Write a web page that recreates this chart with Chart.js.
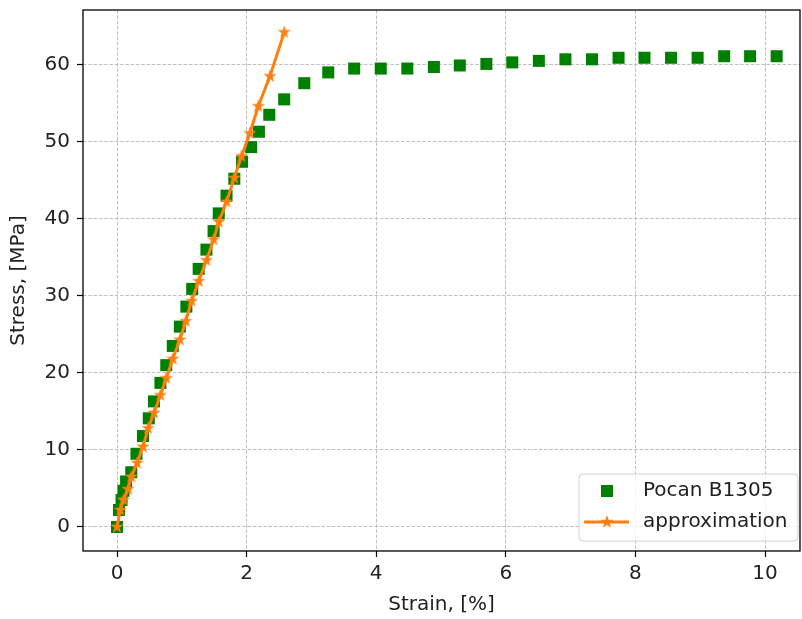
<!DOCTYPE html>
<html>
<head>
<meta charset="utf-8">
<script src="https://cdn.jsdelivr.net/npm/chart.js@4.4.1/dist/chart.umd.min.js"></script>
<style>
  html, body { margin: 0; padding: 0; background: #fff; }
  #wrap { width: 802px; height: 619px; }
</style>
</head>
<body>
<div id="wrap"><canvas id="stress-chart" width="802" height="619"></canvas></div>
<script>
  var strainMeasured = [0, 0.03, 0.07, 0.10, 0.14, 0.22, 0.30, 0.40, 0.49, 0.57, 0.67, 0.76, 0.86, 0.97,
    1.07, 1.16, 1.26, 1.38, 1.49, 1.57, 1.69, 1.81, 1.93, 2.07, 2.19, 2.35, 2.58, 2.89, 3.26, 3.66,
    4.07, 4.48, 4.89, 5.29, 5.70, 6.10, 6.51, 6.92, 7.33, 7.74, 8.14, 8.55, 8.96, 9.37, 9.77, 10.18];
  var stressMeasured = [0, 2.2, 3.5, 4.7, 5.9, 7.1, 9.5, 11.8, 14.1, 16.3, 18.7, 21.0, 23.5, 26.0,
    28.6, 30.9, 33.5, 36.0, 38.4, 40.7, 43.0, 45.2, 47.4, 49.3, 51.3, 53.5, 55.5, 57.6, 59.0, 59.5,
    59.5, 59.5, 59.7, 59.9, 60.1, 60.3, 60.5, 60.7, 60.7, 60.9, 60.9, 60.9, 60.9, 61.1, 61.1, 61.1];

  // linear approximation
  var strainApprox = [0, 0.05, 0.10, 0.17, 0.22, 0.31, 0.40, 0.48, 0.57, 0.67, 0.76, 0.86, 0.97, 1.06,
    1.15, 1.26, 1.38, 1.49, 1.57, 1.69, 1.81, 1.92, 2.05, 2.18, 2.36, 2.58];
  var stressApprox = [0, 2.2, 3.5, 4.9, 6.5, 8.3, 10.4, 12.8, 14.8, 17.1, 19.3, 21.8, 24.3, 26.7,
    29.3, 31.9, 34.6, 37.3, 39.6, 42.2, 45.3, 48.1, 51.1, 54.6, 58.5, 64.2];

  var xTicks = [0, 2, 4, 6, 8, 10];
  var yTicks = [0, 10, 20, 30, 40, 50, 60];

  var FONT = 'DejaVu Sans';
  var FS = 20;
  var TXT = '#222222';

  function toPoints(xs, ys) {
    return xs.map(function (x, i) { return {x: x, y: ys[i]}; });
  }

  // matplotlib-like filled star
  function makeStar(color, r) {
    var c = document.createElement('canvas');
    var s = Math.ceil(r * 2 + 2);
    c.width = s; c.height = s;
    var g = c.getContext('2d');
    var inner = r * 0.382;
    g.beginPath();
    for (var i = 0; i < 10; i++) {
      var rad = i % 2 === 0 ? r : inner;
      var a = -Math.PI / 2 + i * Math.PI / 5;
      g.lineTo(s / 2 + rad * Math.cos(a), s / 2 + rad * Math.sin(a));
    }
    g.closePath();
    g.fillStyle = color;
    g.fill();
    return c;
  }

  var orange = '#ff7f0e';
  var green = '#008000';
  var star = makeStar(orange, 7);

  var framePlugin = {
    id: 'frame',
    afterDatasetsDraw: function (chart) {
      var ctx = chart.ctx, a = chart.chartArea;
      ctx.save();
      ctx.strokeStyle = '#000';
      ctx.lineWidth = 1.3;
      ctx.strokeRect(a.left, a.top, a.right - a.left, a.bottom - a.top);

      // legend, lower right inside the axes
      var ds = chart.data.datasets;
      var bx = 579, by = 474, bw = 219, bh = 67, rr = 4;
      ctx.beginPath();
      ctx.roundRect(bx, by, bw, bh, rr);
      ctx.fillStyle = 'rgba(255,255,255,0.8)';
      ctx.fill();
      ctx.strokeStyle = '#d0d0d0';
      ctx.lineWidth = 1;
      ctx.stroke();

      ctx.font = FS + 'px "' + FONT + '"';
      ctx.textBaseline = 'middle';
      ctx.textAlign = 'left';

      // measured
      ctx.fillStyle = green;
      ctx.fillRect(601, 485, 12, 12);
      ctx.fillStyle = TXT;
      ctx.fillText(ds[0].label, 643, 491);

      // approximation
      ctx.strokeStyle = orange;
      ctx.lineWidth = 3;
      ctx.beginPath();
      ctx.moveTo(584, 522);
      ctx.lineTo(629, 522);
      ctx.stroke();
      ctx.drawImage(star, 607 - star.width / 2, 522 - star.height / 2);
      ctx.fillStyle = TXT;
      ctx.fillText(ds[1].label, 643, 522);
      ctx.restore();
    }
  };

  function fixedTicks(values) {
    return function (scale) {
      scale.ticks = values.map(function (v) { return {value: v}; });
    };
  }

  function noPadding(scale) {
    scale.paddingLeft = 0;
    scale.paddingRight = 0;
    scale.paddingTop = 0;
    scale.paddingBottom = 0;
  }

  var ctx = document.getElementById('stress-chart').getContext('2d');
  window.stressChart = new Chart(ctx, {
    type: 'scatter',
    data: {
      datasets: [
        {
          label: 'Pocan B1305',
          data: toPoints(strainMeasured, stressMeasured),
          pointStyle: 'rect',
          pointRadius: 8.5,
          backgroundColor: green,
          borderColor: green,
          borderWidth: 0,
          showLine: false,
          order: 2
        },
        {
          label: 'approximation',
          data: toPoints(strainApprox, stressApprox),
          pointStyle: star,
          pointRadius: 7,
          borderColor: orange,
          backgroundColor: orange,
          borderWidth: 3,
          showLine: true,
          order: 1
        }
      ]
    },
    options: {
      responsive: false,
      animation: false,
      events: [],
      layout: {autoPadding: false, padding: {top: 10, right: 2, left: 0, bottom: 0}},
      plugins: {
        legend: {display: false},
        tooltip: {enabled: false}
      },
      scales: {
        x: {
          type: 'linear',
          min: -0.525,
          max: 10.54,
          afterBuildTicks: fixedTicks(xTicks),
          afterFit: function (scale) {
            scale.height = 68;
            noPadding(scale);
          },
          border: {display: false, dash: [3.5, 1.8]},
          grid: {
            color: '#b8b8b8',
            lineWidth: 0.9,
            tickLength: 6,
            tickColor: '#000',
            tickWidth: 1.2,
            tickBorderDash: []
          },
          ticks: {
            color: TXT,
            padding: 5,
            maxRotation: 0,
            autoSkip: false,
            font: {family: FONT, size: FS}
          },
          title: {
            display: true,
            text: 'Strain, [%]',
            color: TXT,
            padding: {top: 0, bottom: 2},
            font: {family: FONT, size: FS}
          }
        },
        y: {
          type: 'linear',
          min: -3.12,
          max: 67.1,
          afterBuildTicks: fixedTicks(yTicks),
          afterFit: function (scale) {
            scale.width = 83;
            noPadding(scale);
          },
          border: {display: false, dash: [3.5, 1.8]},
          grid: {
            color: '#b8b8b8',
            lineWidth: 0.9,
            tickLength: 6,
            tickColor: '#000',
            tickWidth: 1.2,
            tickBorderDash: []
          },
          ticks: {
            color: TXT,
            padding: 7,
            autoSkip: false,
            font: {family: FONT, size: FS}
          },
          title: {
            display: true,
            text: 'Stress, [MPa]',
            color: TXT,
            padding: {top: 7, bottom: 0},
            font: {family: FONT, size: FS}
          }
        }
      }
    },
    plugins: [framePlugin]
  });
</script>
</body>
</html>
